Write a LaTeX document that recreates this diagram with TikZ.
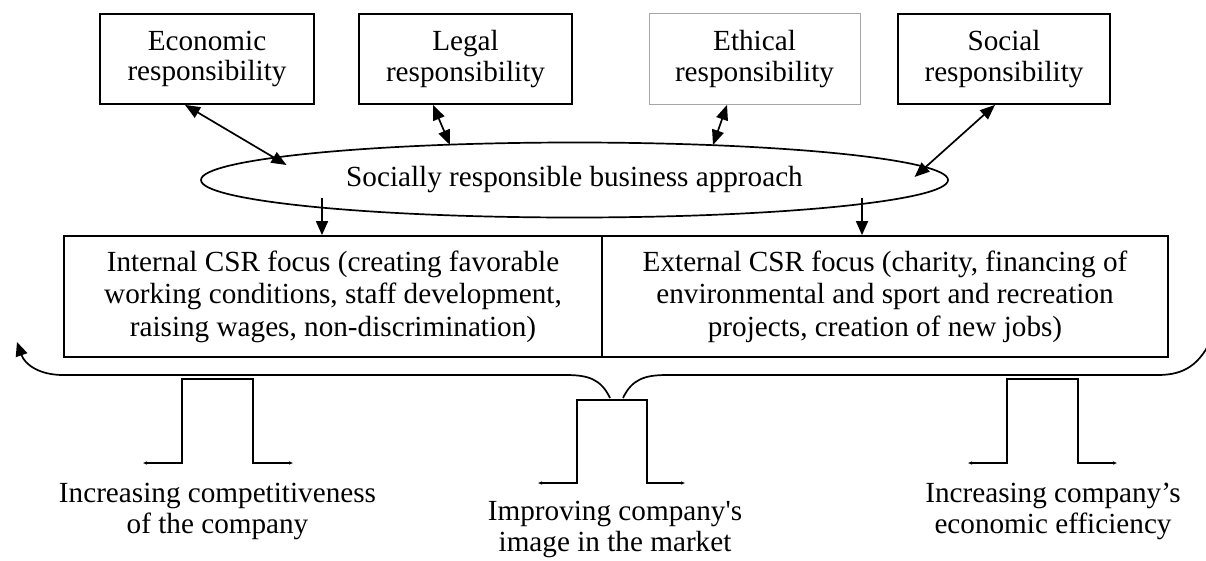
\documentclass[tikz,border=0pt]{standalone}
\usepackage{fontspec}
\newfontfamily\csrserif{Liberation Serif}
\usetikzlibrary{arrows.meta,shapes.geometric,calc}

\begin{document}
\begin{tikzpicture}[x=1pt,y=-1pt,
    every node/.style={font=\csrserif\fontsize{29.2}{32.5}\selectfont,align=center,inner sep=0pt},
    respbox/.style={draw,line width=1.8pt,minimum height=90pt,font=\csrserif\fontsize{29.2}{30.5}\selectfont},
    thinbox/.style={draw=gray!70,line width=0.8pt,minimum height=91pt,font=\csrserif\fontsize{29.2}{30.5}\selectfont},
    link/.style={line width=1.7pt,{Triangle[length=15pt,width=12pt]}-{Triangle[length=15pt,width=12pt]}},
    down/.style={line width=1.7pt,-{Triangle[length=14pt,width=12pt]}},
    pillar/.style={line width=1.7pt,{Triangle[length=4pt,width=3pt]}-{Triangle[length=4pt,width=3pt]}},
    brace/.style={line width=1.7pt}]
    \useasboundingbox (0,0) rectangle (1206,560);

    % four kinds of responsibility
    \foreach \nm/\cx/\bw/\lbl/\st in {econ/207/214/Economic/respbox,
        legal/465.5/213/Legal/respbox, ethic/754.5/211/Ethical/thinbox,
        social/1004/212/Social/respbox} {
        \node[\st,minimum width=\bw] (\nm) at (\cx,59) {\lbl\\responsibility};
    }

    \node[ellipse,draw,line width=1.7pt,minimum width=747pt,minimum height=75pt]
        (approach) at (574.5,180) {Socially responsible business approach};

    \draw[link] ([xshift=-22pt]econ.south) -- ([xshift=-288pt,yshift=15pt]approach.center);
    \draw[link] ([xshift=-32.5pt]legal.south) -- ([xshift=-124.5pt,yshift=35pt]approach.center);
    \draw[link] ([xshift=-27.5pt]ethic.south) -- ([xshift=138.5pt,yshift=35pt]approach.center);
    \draw[link] ([xshift=-9pt]social.south) -- ([xshift=340pt,yshift=3pt]approach.center);

    % internal / external focus
    \node[draw,line width=1.8pt,minimum width=538pt,minimum height=121pt] (intl) at (333,296.5)
        {Internal CSR focus (creating favorable\\working conditions, staff development,\\raising wages, non-discrimination)};
    \node[draw,line width=1.8pt,minimum width=566pt,minimum height=121pt] (extl) at (885,296.5)
        {External CSR focus (charity, financing of\\environmental and sport and recreation\\projects, creation of new jobs)};

    \draw[down] ([xshift=-252.5pt,yshift=-18pt]approach.center) -- ([xshift=-11pt]intl.north);
    \draw[down] ([xshift=287.5pt,yshift=-18pt]approach.center) -- ([xshift=-23pt]extl.north);

    % brace under both boxes
    \coordinate (midl) at (610,398);
    \coordinate (midr) at (623,398);
    \coordinate (endl) at (17,342);
    \coordinate (endr) at (1212,338);
    \draw[brace,-{Triangle[length=14pt,width=12pt]}] (midl) .. controls (601,379) and (588,375) .. (566,375)
        -- (63,375) .. controls (40,375) and (25,365) .. (endl);
    \draw[brace] (midr) .. controls (632,379) and (645,375) .. (667,375)
        -- (1158,375) .. controls (1185,375) and (1200,364) .. (endr);

    % results
    \draw[pillar] (143,463) -- (182,463) -- (182,379) -- (253,379) -- (253,463) -- (293,463);
    \draw[pillar] (538,483) -- (577,483) -- (577,400) -- (647,400) -- (647,483) -- (685,483);
    \draw[pillar] (968,463) -- (1007,463) -- (1007,379) -- (1078,379) -- (1078,463) -- (1117,463);

    \node[font=\csrserif\fontsize{29.2}{31}\selectfont] (compet) at (217.5,511)
        {Increasing competitiveness\\of the company};
    \node[font=\csrserif\fontsize{29.2}{31}\selectfont] (image) at (615,529)
        {Improving company\textquotesingle s\\image in the market};
    \node[font=\csrserif\fontsize{29.2}{31}\selectfont] (effic) at (1053,511)
        {Increasing company’s\\economic efficiency};
\end{tikzpicture}
\end{document}
